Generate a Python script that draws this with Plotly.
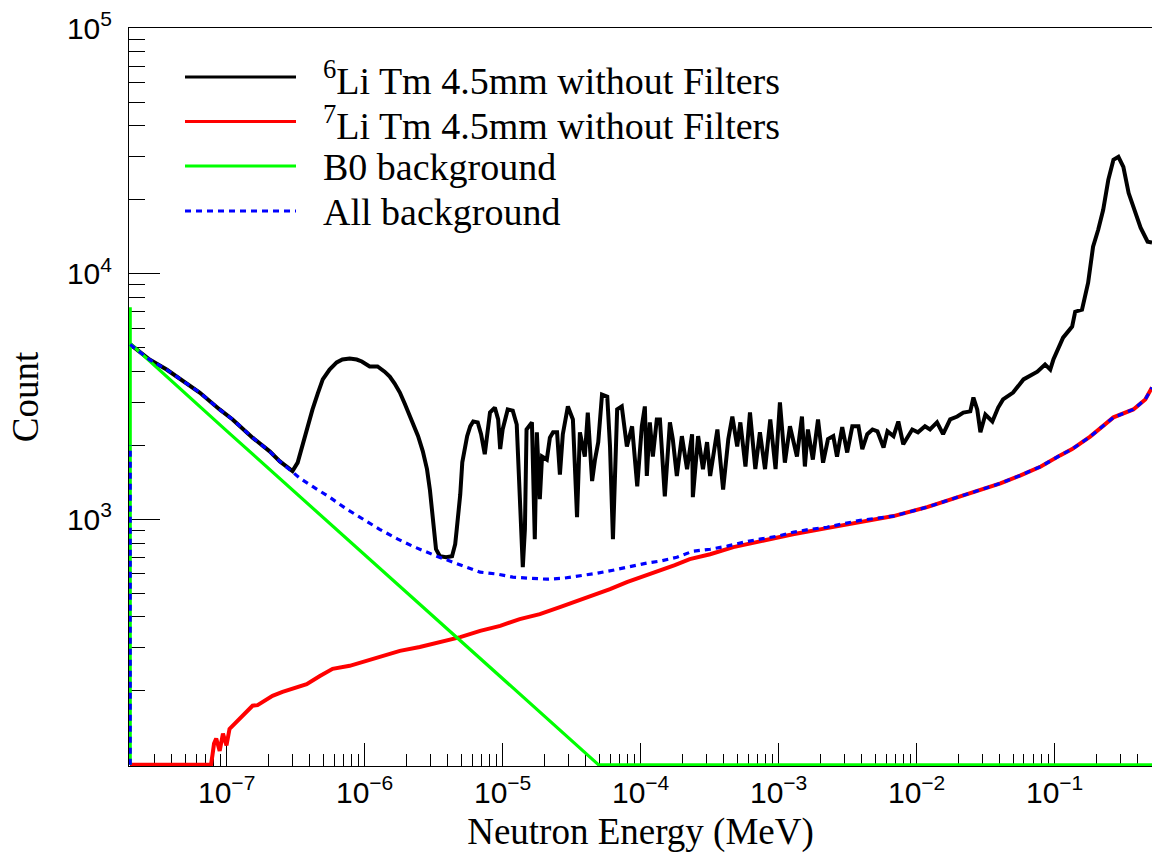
import math
import plotly.graph_objects as go

# ---------------- data ----------------
# 6Li Tm 4.5mm without Filters (black)
li6_energy = [
    2.0e-8, 2.76e-8, 3.67e-8, 4.95e-8, 6.37e-8, 8.89e-8, 1.104e-7, 1.54e-7, 2.05e-7, 2.43e-7, 2.86e-7, 3.0e-7,
    3.27e-7, 3.55e-7, 3.80e-7, 4.19e-7, 4.57e-7, 4.97e-7, 5.57e-7, 6.27e-7, 6.9e-7, 7.79e-7, 8.76e-7, 9.54e-7,
    1.087e-6, 1.24e-6, 1.396e-6, 1.52e-6, 1.65e-6, 1.80e-6, 1.95e-6, 2.12e-6, 2.27e-6, 2.44e-6, 2.64e-6, 2.83e-6,
    2.97e-6, 3.12e-6, 3.29e-6, 3.51e-6, 3.89e-6, 4.30e-6, 4.53e-6, 4.65e-6, 4.93e-6, 5.1e-6, 5.35e-6, 5.53e-6,
    5.82e-6, 6.12e-6, 6.6e-6, 6.98e-6, 7.42e-6, 7.7e-6, 8.1e-6, 8.78e-6, 9.28e-6, 9.6e-6,
    1.0e-5, 1.089e-5, 1.184e-5, 1.265e-5, 1.33e-5, 1.40e-5, 1.45e-5, 1.49e-5, 1.63e-5, 1.71e-5, 1.77e-5, 1.86e-5,
    1.93e-5, 2.09e-5, 2.2e-5, 2.32e-5, 2.48e-5, 2.6e-5, 2.73e-5, 2.97e-5, 3.23e-5, 3.46e-5, 3.63e-5, 3.94e-5,
    4.14e-5, 4.45e-5, 4.67e-5, 4.93e-5, 5.25e-5, 5.73e-5, 6.0e-5, 6.3e-5, 6.76e-5, 7.3e-5, 7.95e-5, 8.67e-5, 9.45e-5,
    1.02e-4, 1.073e-4, 1.109e-4, 1.166e-4, 1.226e-4, 1.31e-4, 1.38e-4, 1.497e-4, 1.63e-4, 1.71e-4, 1.83e-4, 1.99e-4,
    2.17e-4, 2.36e-4, 2.39e-4, 2.61e-4, 2.83e-4, 3.03e-4, 3.19e-4, 3.6e-4, 3.96e-4, 4.32e-4, 4.62e-4, 5.01e-4,
    5.28e-4, 5.75e-4, 6.2e-4, 6.78e-4, 7.32e-4, 7.97e-4, 8.7e-4, 9.5e-4,
    1.022e-3, 1.11e-3, 1.208e-3, 1.358e-3, 1.476e-3, 1.55e-3, 1.63e-3, 1.77e-3, 1.93e-3, 2.10e-3, 2.28e-3, 2.49e-3,
    2.65e-3, 2.89e-3, 3.14e-3, 3.42e-3, 3.79e-3, 4.04e-3, 4.39e-3, 4.79e-3, 5.2e-3, 5.76e-3, 6.15e-3, 6.8e-3,
    7.37e-3, 8.0e-3, 9.3e-3,
    1.023e-2, 1.15e-2, 1.25e-2, 1.406e-2, 1.555e-2, 1.75e-2, 1.97e-2, 2.18e-2, 2.45e-2, 2.58e-2, 2.75e-2, 2.9e-2,
    3.15e-2, 3.54e-2, 3.9e-2, 4.23e-2, 5.0e-2, 5.95e-2, 7.5e-2, 8.53e-2, 9.3e-2, 9.8e-2,
    0.1152, 0.134, 0.141, 0.158, 0.175, 0.190, 0.207, 0.225, 0.245, 0.267, 0.290, 0.315, 0.344, 0.386, 0.420,
    0.472, 0.508]
li6_counts = [
    5150, 4470, 4070, 3610, 3280, 2800, 2550, 2150, 1890, 1720, 1600, 1570,
    1700, 2020, 2320, 2800, 3250, 3710, 4070, 4350, 4470, 4510, 4470, 4390,
    4190, 4190, 3990, 3810, 3570, 3280, 2960, 2620, 2390, 2180, 1890, 1600,
    1320, 970, 755, 707, 700, 707, 791, 910, 1264, 1705, 2020, 2180,
    2390, 2500, 2480, 2220, 1840, 2120, 2720, 2850, 2550, 1930,
    2320, 2800, 2770, 2430, 1240, 638, 910, 2320, 2480, 829, 2260, 1206,
    1800, 1750, 2150, 2260, 2260, 1520, 2220, 2880, 2550, 1020, 2260, 1800,
    2720, 1430, 1750, 2060, 3220, 3160, 1980, 829, 2800, 2880, 1980, 2390, 1360,
    2390, 2880, 1500, 2480, 1800, 2550, 2550, 1240, 2480, 2120, 1500, 2180,
    1600, 2220, 1230, 2180, 1600, 2060, 1500, 2320, 1320, 2120, 2620, 1980,
    2480, 1640, 2720, 1600, 2260, 1600, 2550, 1600,
    2990, 1700, 2390, 1800, 2620, 1640, 2320, 1750, 2550, 1700, 2120, 2180,
    1800, 2370, 1870, 2390, 2390, 1930, 2220, 2320, 2280, 1960, 2280, 2180,
    2500, 2020, 2320,
    2260, 2390, 2320, 2480, 2220, 2550, 2620, 2720, 2750, 3130, 2800, 2260,
    2670, 2500, 2850, 3075, 3280, 3710, 3990, 4270, 4070, 4470,
    5490, 6090, 7000, 7140, 9190, 12870, 15100, 18200, 24100, 29100, 29900, 27200, 21300, 17700, 15400,
    13500, 13400]

# 7Li Tm 4.5mm without Filters (red)
li7_energy = [
    2.0e-8, 7.7e-8, 7.9e-8, 8.1e-8, 8.4e-8, 8.9e-8, 9.4e-8, 9.97e-8, 1.049e-7, 1.104e-7, 1.2e-7, 1.304e-7,
    1.418e-7, 1.54e-7, 1.675e-7, 1.82e-7, 1.98e-7, 2.15e-7, 2.54e-7, 3.0e-7, 3.80e-7, 4.74e-7, 5.86e-7, 7.79e-7,
    1.034e-6, 1.35e-6, 1.80e-6, 2.51e-6, 3.93e-6, 4.93e-6, 6.87e-6, 9.6e-6, 1.33e-5, 1.86e-5, 2.6e-5, 3.63e-5,
    4.53e-5, 6.0e-5, 7.95e-5, 1.073e-4, 1.38e-4, 1.77e-4, 2.27e-4, 3.19e-4, 4.7e-4, 7.32e-4, 1.27e-3, 2.24e-3,
    3.9e-3, 6.8e-3, 1.19e-2, 2.07e-2, 2.9e-2, 4.05e-2, 5.67e-2, 7.95e-2, 0.1096, 0.134, 0.181, 0.267, 0.372,
    0.454, 0.508]
li7_counts = [
    0, 0, 110, 122, 128, 114, 134, 120, 140, 144, 151, 158,
    166, 174, 175, 180, 187, 191, 198, 204, 213, 230, 246, 253,
    265, 275, 291, 302, 319, 331, 351, 368, 392, 411, 439, 469,
    487, 519, 555, 587, 615, 650, 688, 720, 770, 814, 869, 920,
    972, 1030, 1120, 1240, 1320, 1400, 1510, 1640, 1820, 1930, 2170, 2600, 2800,
    3075, 3440]

# B0 background (green)
b0_energy = [2.0e-8, 2.0e-8, 2.0e-8, 1.0e-7, 1.0e-6, 1.0e-5, 4.96e-5, 0.508]
b0_counts = [0, 7300, 5200, 2290, 718, 225, 100, 0]

# All background (blue, dotted); None separates the first narrow bin
allbg_energy = [
    2.0e-8, 2.0e-8, None,
    2.0e-8, 2.76e-8, 3.67e-8, 4.95e-8, 6.37e-8, 8.89e-8, 1.104e-7, 1.54e-7, 2.05e-7, 2.43e-7, 2.86e-7,
    3.39e-7, 4.19e-7, 5.57e-7, 7.4e-7, 1.0e-6, 1.284e-6, 1.74e-6, 2.22e-6, 3.33e-6, 5.18e-6, 6.87e-6, 9.15e-6,
    1.184e-5, 1.58e-5, 2.09e-5, 2.73e-5, 3.63e-5, 4.86e-5, 6.3e-5, 8.4e-5, 1.109e-4, 1.38e-4, 1.83e-4, 2.39e-4,
    3.19e-4, 4.24e-4, 5.55e-4, 7.32e-4, 9.8e-4, 1.27e-3, 1.69e-3, 2.24e-3, 2.94e-3, 3.9e-3, 6.8e-3, 1.19e-2,
    2.07e-2, 2.9e-2, 4.05e-2, 5.67e-2, 7.95e-2, 0.1096, 0.134, 0.181, 0.267, 0.372, 0.454, 0.508]
allbg_counts = [
    0, 2000, None,
    5150, 4470, 4070, 3610, 3280, 2800, 2550, 2150, 1890, 1720, 1600,
    1470, 1360, 1230, 1100, 995, 910, 830, 777, 707, 644, 609, 598,
    581, 575, 570, 575, 587, 603, 620, 644, 663, 675, 700, 741,
    755, 777, 806, 830, 853, 885, 910, 928, 956, 990, 1030, 1120,
    1240, 1320, 1400, 1510, 1640, 1820, 1930, 2170, 2600, 2800, 3075, 3440]

series_names = ["<sup>6</sup>Li Tm 4.5mm without Filters",
                "<sup>7</sup>Li Tm 4.5mm without Filters",
                "B0 background",
                "All background"]
x_tick_values = [1e-7, 1e-6, 1e-5, 1e-4, 1e-3, 1e-2, 1e-1]
x_tick_labels = ["10<sup>\u22127</sup>", "10<sup>\u22126</sup>", "10<sup>\u22125</sup>", "10<sup>\u22124</sup>",
                 "10<sup>\u22123</sup>", "10<sup>\u22122</sup>", "10<sup>\u22121</sup>"]
y_tick_values = [1e3, 1e4, 1e5]
y_tick_labels = ["10<sup>3</sup>", "10<sup>4</sup>", "10<sup>5</sup>"]
x_title = "Neutron Energy (MeV)"
y_title = "Count"

# ---------------- figure ----------------
X_MIN, X_MAX = 1.96e-8, 0.508
Y_LOG_MIN, Y_LOG_MAX = math.log10(98.9), 5.0004
FLOOR = 100.0  # empty bins are drawn on the bottom of the frame, as ROOT does on log scale

FIG_W, FIG_H = 1152, 860
PLOT_L, PLOT_R, PLOT_T, PLOT_B = 129, 1152, 28, 766


def shown(vals):
    return [None if v is None else (v if v > 0 else FLOOR) for v in vals]


colors = ["#000000", "#ff0000", "#00ff00", "#0000ff"]
dashes = ["solid", "solid", "solid", "6px,5px"]
widths = [4, 4, 3.2, 3.2]

fig = go.Figure()
for name, xs, ys, col, dash, lw in zip(series_names,
                                       [li6_energy, li7_energy, b0_energy, allbg_energy],
                                       [li6_counts, li7_counts, b0_counts, allbg_counts],
                                       colors, dashes, widths):
    fig.add_trace(go.Scatter(x=xs, y=shown(ys), mode="lines", name=name, showlegend=False,
                             line=dict(color=col, width=lw, dash=dash)))


def minor_vals(lo_exp, hi_exp, vmin, vmax):
    out = []
    for e in range(lo_exp, hi_exp + 1):
        for m in range(2, 10):
            v = m * 10 ** e
            if vmin <= v <= vmax:
                out.append(v)
    return out


tick_font = dict(family="Liberation Sans, Arial, sans-serif", size=30, color="black")
title_font = dict(family="Liberation Serif, Times New Roman, serif", size=37, color="black")

fig.update_layout(
    width=FIG_W, height=FIG_H,
    margin=dict(l=PLOT_L, r=FIG_W - PLOT_R, t=PLOT_T, b=FIG_H - PLOT_B, pad=0, autoexpand=False),
    paper_bgcolor="white", plot_bgcolor="white",
    showlegend=False,
    xaxis=dict(type="log", range=[math.log10(X_MIN), math.log10(X_MAX)],
               tickmode="array", tickvals=x_tick_values, ticktext=x_tick_labels,
               ticks="inside", ticklen=23, tickwidth=1, tickcolor="black",
               minor=dict(tickmode="array", tickvals=minor_vals(-8, -1, X_MIN, X_MAX),
                          ticks="inside", ticklen=12, tickwidth=1, tickcolor="black", showgrid=False),
               showline=True, linecolor="black", linewidth=1, mirror=True,
               showgrid=False, zeroline=False, layer="below traces",
               tickfont=tick_font, ticklabelstandoff=0,
               title=dict(text=x_title, font=title_font, standoff=10)),
    yaxis=dict(type="log", range=[Y_LOG_MIN, Y_LOG_MAX],
               tickmode="array", tickvals=y_tick_values, ticktext=y_tick_labels,
               ticks="inside", ticklen=31, tickwidth=1, tickcolor="black",
               minor=dict(tickmode="array", tickvals=minor_vals(2, 4, 10 ** Y_LOG_MIN, 10 ** Y_LOG_MAX),
                          ticks="inside", ticklen=16, tickwidth=1, tickcolor="black", showgrid=False),
               showline=True, linecolor="black", linewidth=1, mirror=True,
               showgrid=False, zeroline=False, layer="below traces",
               tickfont=tick_font, ticklabelstandoff=10,
               title=dict(text=y_title, font=title_font, standoff=16)),
)


# legend drawn in the ROOT TLegend style: long line samples with text to the right
def px_to_paper(px, py):
    return (px - PLOT_L) / (PLOT_R - PLOT_L), (PLOT_B - py) / (PLOT_B - PLOT_T)


legend_rows = [77, 121.5, 166, 211]
for name, col, dash, lw, row in zip(series_names, colors, dashes, widths, legend_rows):
    x0, y0 = px_to_paper(185, row)
    x1, _ = px_to_paper(296, row)
    fig.add_shape(type="line", xref="paper", yref="paper", x0=x0, x1=x1, y0=y0, y1=y0,
                  line=dict(color=col, width=min(lw, 3.2), dash=dash))
    tx, ty = px_to_paper(321, row + 1)
    fig.add_annotation(xref="paper", yref="paper", x=tx, y=ty, xanchor="left", yanchor="middle",
                       text=name, showarrow=False,
                       font=dict(family="Liberation Serif, Times New Roman, serif", size=38, color="black"))

# remove the default 8 px page margin so the 1152x860 figure fills the window exactly
fig.write_html("out.html",
               config={"displayModeBar": False, "staticPlot": True},
               post_script="document.body.style.margin='0';"
                           "document.body.style.overflow='hidden';"
                           "document.documentElement.style.overflow='hidden';")
